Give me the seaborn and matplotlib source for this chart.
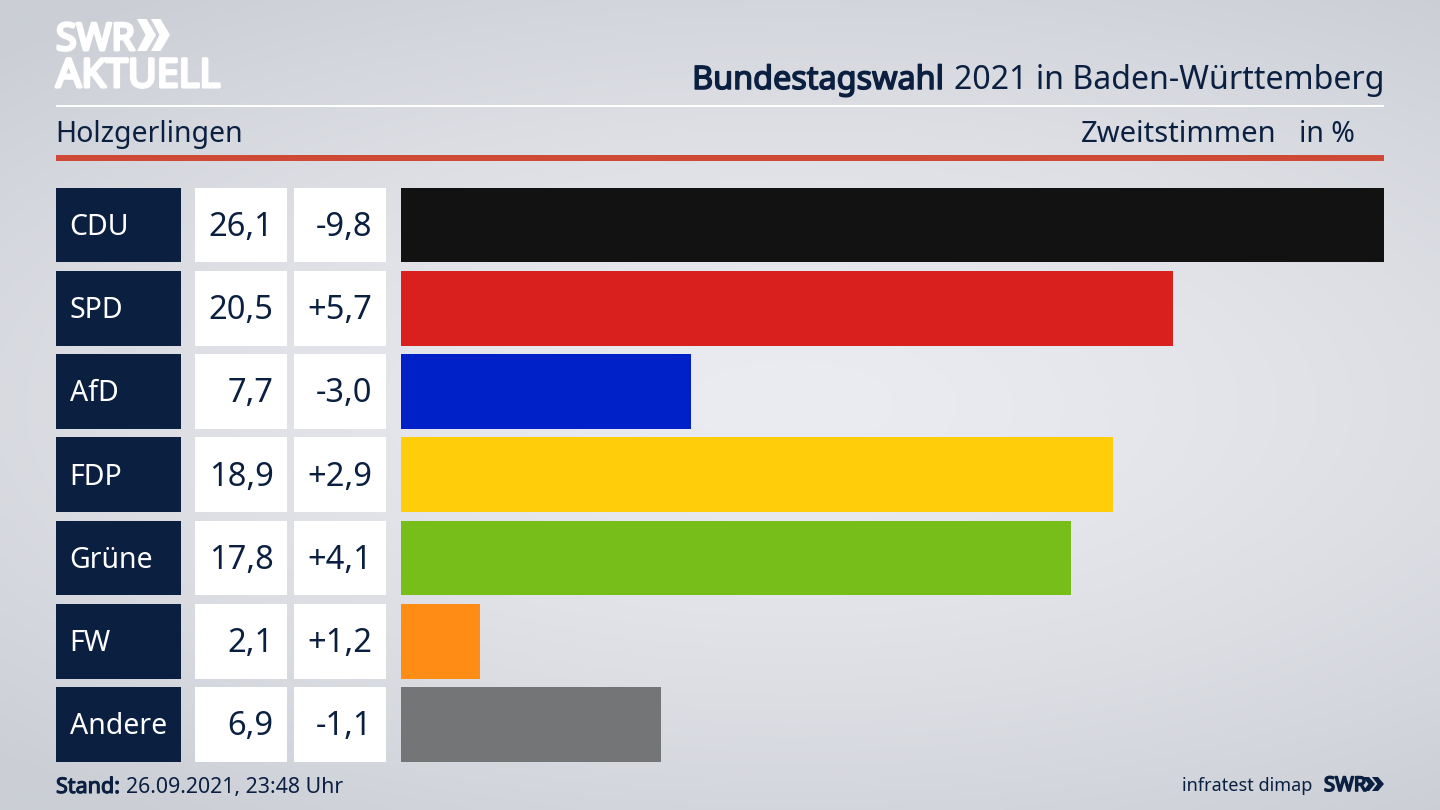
import numpy as np
import pandas as pd
import matplotlib
matplotlib.use("Agg")
import matplotlib.pyplot as plt
import matplotlib.patheffects as pe
from matplotlib.patches import Rectangle, Polygon
from matplotlib.transforms import blended_transform_factory
import seaborn as sns

parties = ["CDU", "SPD", "AfD", "FDP", "Grüne", "FW", "Andere"]
shares = [26.1, 20.5, 7.7, 18.9, 17.8, 2.1, 6.9]
changes = ["-9,8", "+5,7", "-3,0", "+2,9", "+4,1", "+1,2", "-1,1"]
colors = ["#121212", "#da1f1f", "#0021c8", "#ffcd0a", "#78be1a", "#ff8c14", "#747577"]

NAVY = "#0b2040"
FONT = "Noto Sans"
sns.set_theme(style="white")
plt.rcParams["font.family"] = [FONT, "DejaVu Sans"]

W, H = 1440, 810
fig = plt.figure(figsize=(W / 100, H / 100), dpi=100)


def heavy(width, color):
    return [pe.withStroke(linewidth=width, foreground=color)]


# background gradient
bg = fig.add_axes([0, 0, 1, 1], zorder=0)
yy, xx = np.mgrid[0:1:162j, 0:1:288j]
d = np.sqrt(((xx - 0.55) / 0.8) ** 2 + ((yy - 0.5) / 0.62) ** 2)
t = np.clip(d, 0, 1) ** 1.4
c0 = np.array([0xEB, 0xEC, 0xF1]) / 255
c1 = np.array([0xCB, 0xCE, 0xD5]) / 255
bg.imshow(c0 + (c1 - c0) * t[..., None], extent=[0, W, H, 0], aspect="auto", interpolation="bicubic")
bg.set_xlim(0, W)
bg.set_ylim(H, 0)
bg.axis("off")

# bars
x0, x1 = 400.5, 1384
top, step = 225.0, 83.25
ay0 = top - step / 2
ay1 = top + 6 * step + step / 2
ax = fig.add_axes([x0 / W, 1 - ay1 / H, (x1 - x0) / W, (ay1 - ay0) / H], zorder=2)
ax.patch.set_alpha(0)
df = pd.DataFrame({"party": parties, "share": shares})
sns.barplot(data=df, y="party", x="share", hue="party", palette=colors, order=parties,
            hue_order=parties, dodge=False, width=0.9, saturation=1, legend=False,
            edgecolor="none", linewidth=0, ax=ax)
ax.set_xlim(0, max(shares))
ax.set_ylim(6.5, -0.5)
ax.axis("off")

# overlay in pixels
ov = fig.add_axes([0, 0, 1, 1], zorder=1)
ov.set_xlim(0, W)
ov.set_ylim(H, 0)
ov.axis("off")
ov.patch.set_alpha(0)

tr = blended_transform_factory(ov.transData, ax.transData)
for i, (p, s, c) in enumerate(zip(parties, shares, changes)):
    for (a, b, col) in [(56, 181, NAVY), (195, 287, "white"), (294, 386, "white")]:
        ov.add_patch(Rectangle((a, i - 0.45), b - a, 0.9, transform=tr, fc=col, ec="none"))
    ov.text(69.5, i - 0.015, p, transform=tr, color="white", fontsize=20.5, va="center_baseline", ha="left")
    ov.text(273.5, i - 0.02, f"{s:.1f}".replace(".", ","), transform=tr, color=NAVY, fontsize=23.5,
            va="center_baseline", ha="right")
    ov.text(372.5, i - 0.02, c, transform=tr, color=NAVY, fontsize=23.5, va="center_baseline", ha="right")

# header rules
ov.add_patch(Rectangle((56, 104.5), 1328, 2.5, fc="white", ec="none"))
ov.add_patch(Rectangle((56, 155), 1328, 5.5, fc="#cf4a36", ec="none"))

# title
ov.text(1384, 89, "2021 in Baden-Württemberg", color=NAVY, fontsize=23.1, ha="right", va="baseline")
ov.text(944, 89, "Bundestagswahl", color=NAVY, fontsize=23.3, ha="right", va="baseline",
        path_effects=heavy(1.1, NAVY))

ov.text(55, 142, "Holzgerlingen", color=NAVY, fontsize=20.5, ha="left", va="baseline")
ov.text(1277, 142, "Zweitstimmen", color=NAVY, fontsize=21, ha="right", va="baseline")
ov.text(1355, 142, "in %", color=NAVY, fontsize=20.5, ha="right", va="baseline")

# footer
ov.text(56, 793, "Stand:", color=NAVY, fontsize=15.5, ha="left", va="baseline",
        path_effects=heavy(0.8, NAVY))
ov.text(126, 793, "26.09.2021, 23:48 Uhr", color=NAVY, fontsize=15.35, ha="left", va="baseline")
ov.text(1312, 791, "infratest dimap", color=NAVY, fontsize=13, ha="right", va="baseline")
ov.text(1324, 791, "SWR", color=NAVY, fontsize=14.5, ha="left", va="baseline",
        path_effects=heavy(1.2, NAVY))


def chevrons(x, y, h, w, gap, color):
    for k in range(2):
        xa = x + k * gap
        ov.add_patch(Polygon([(xa, y), (xa + w * 0.5, y), (xa + w, y + h / 2),
                              (xa + w * 0.5, y + h), (xa, y + h), (xa + w * 0.45, y + h / 2)],
                             closed=True, fc=color, ec="none"))


chevrons(1363, 777, 14, 12, 9, NAVY)

# logo
ov.text(56, 50, "SWR", color="white", fontsize=27, ha="left", va="baseline",
        path_effects=heavy(2.2, "white"))
ov.text(56, 87, "AKTUELL", color="white", fontsize=28.5, ha="left", va="baseline",
        path_effects=heavy(2.2, "white"))
chevrons(137, 19, 32, 19, 14, "white")

fig.savefig("out.png", dpi=100)
